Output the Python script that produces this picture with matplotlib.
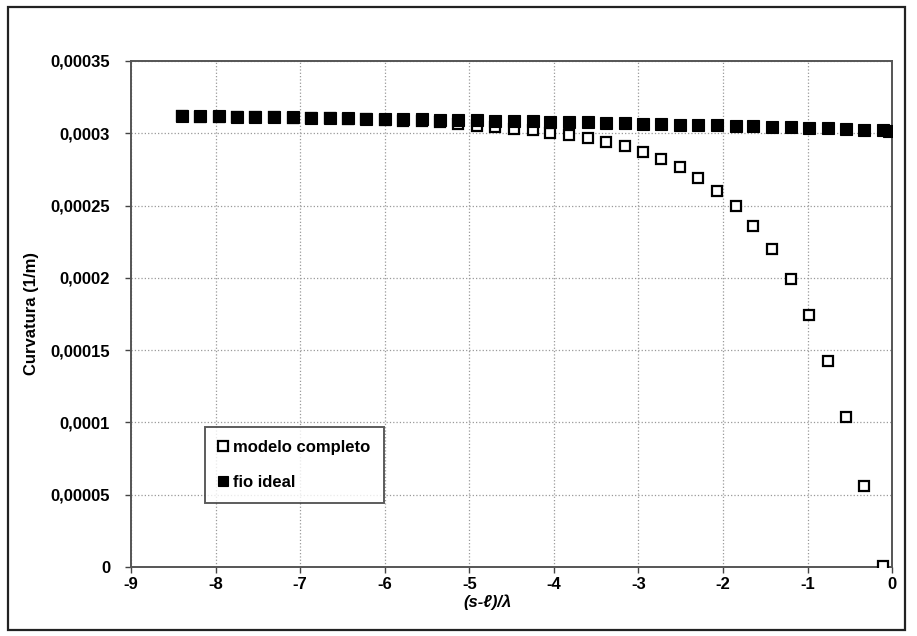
import numpy as np
import matplotlib
matplotlib.use("Agg")
import matplotlib.pyplot as plt
from matplotlib.patches import Rectangle

plt.rcParams['font.family'] = ['Liberation Sans', 'DejaVu Sans']
plt.rcParams['font.weight'] = 'bold'

# (s-l)/lambda positions shared by both series
x_vals = [-8.40, -8.18, -7.96, -7.75, -7.53, -7.31, -7.09, -6.87, -6.65, -6.44,
          -6.22, -6.00, -5.78, -5.56, -5.35, -5.13, -4.91, -4.69, -4.47, -4.25,
          -4.04, -3.82, -3.60, -3.38, -3.16, -2.94, -2.73, -2.51, -2.29, -2.07,
          -1.85, -1.64, -1.42, -1.20, -0.98, -0.76, -0.55, -0.33, -0.11]

# modelo completo (open squares)
completo = [3.117e-4, 3.116e-4, 3.115e-4, 3.114e-4, 3.113e-4, 3.111e-4, 3.109e-4, 3.107e-4, 3.104e-4, 3.101e-4,
            3.097e-4, 3.093e-4, 3.088e-4, 3.082e-4, 3.075e-4, 3.066e-4, 3.050e-4, 3.043e-4, 3.032e-4, 3.020e-4,
            3.004e-4, 2.985e-4, 2.967e-4, 2.939e-4, 2.911e-4, 2.870e-4, 2.820e-4, 2.764e-4, 2.690e-4, 2.600e-4,
            2.494e-4, 2.361e-4, 2.199e-4, 1.994e-4, 1.745e-4, 1.425e-4, 1.037e-4, 0.560e-4, 0.035e-5]

# fio ideal (filled squares), one extra point at the end
ideal_x = x_vals + [-0.04]
ideal = [3.122e-4, 3.120e-4, 3.118e-4, 3.116e-4, 3.114e-4, 3.112e-4, 3.110e-4, 3.108e-4, 3.106e-4, 3.104e-4,
         3.102e-4, 3.100e-4, 3.098e-4, 3.096e-4, 3.094e-4, 3.092e-4, 3.090e-4, 3.088e-4, 3.086e-4, 3.084e-4,
         3.081e-4, 3.078e-4, 3.075e-4, 3.072e-4, 3.069e-4, 3.066e-4, 3.063e-4, 3.060e-4, 3.057e-4, 3.054e-4,
         3.051e-4, 3.048e-4, 3.045e-4, 3.042e-4, 3.038e-4, 3.034e-4, 3.030e-4, 3.025e-4, 3.020e-4, 3.015e-4]

x_ticks = [-9, -8, -7, -6, -5, -4, -3, -2, -1, 0]
y_ticks = [0, 0.00005, 0.0001, 0.00015, 0.0002, 0.00025, 0.0003, 0.00035]
y_tick_labels = ['0', '0,00005', '0,0001', '0,00015', '0,0002', '0,00025', '0,0003', '0,00035']

fig = plt.figure(figsize=(9.17, 6.36), dpi=100)
ax = fig.add_axes([0.1429, 0.1085, 0.8299, 0.7956])

# outer chart frame
fig.patches.append(Rectangle((8 / 917, 6 / 636), 897 / 917, 623 / 636, transform=fig.transFigure,
                             fill=False, edgecolor='#222222', linewidth=1.6))

ax.plot(x_vals, completo, linestyle='none', marker='s', markersize=7.5,
        markerfacecolor='white', markeredgecolor='black', markeredgewidth=1.6,
        label='modelo completo', zorder=3)
ax.plot(ideal_x, ideal, linestyle='none', marker='s', markersize=8.3,
        markerfacecolor='black', markeredgecolor='black', markeredgewidth=0.8,
        label='fio ideal', zorder=4)

ax.set_xlim(-9, 0)
ax.set_ylim(0, 0.00035)
ax.set_xticks(x_ticks)
ax.set_xticklabels([str(t) for t in x_ticks])
ax.set_yticks(y_ticks)
ax.set_yticklabels(y_tick_labels)
ax.tick_params(direction='out', length=4, width=1, labelsize=12, color='#444444')
ax.tick_params(axis='y', pad=11)

ax.grid(True, linestyle=':', color='#999999', linewidth=0.9)
ax.set_axisbelow(True)
for s in ax.spines.values():
    s.set_color('#555555')
    s.set_linewidth(1.4)

ax.set_xlabel('(s-ℓ)/λ', fontsize=12, fontstyle='italic', fontweight='bold', labelpad=3)
ax.xaxis.set_label_coords(0.468, -0.055)
ax.set_ylabel('Curvatura (1/m)', fontsize=12, fontweight='bold', labelpad=8)

leg = ax.legend(loc='upper left', bbox_to_anchor=(0.097, 0.277), fontsize=12,
                frameon=True, fancybox=False, edgecolor='#333333', labelspacing=1.2,
                handlelength=0.6, handletextpad=0.3, borderpad=0.8, borderaxespad=0,
                markerscale=0.9)
leg.get_frame().set_linewidth(1.4)

fig.savefig('out.png', dpi=100)
